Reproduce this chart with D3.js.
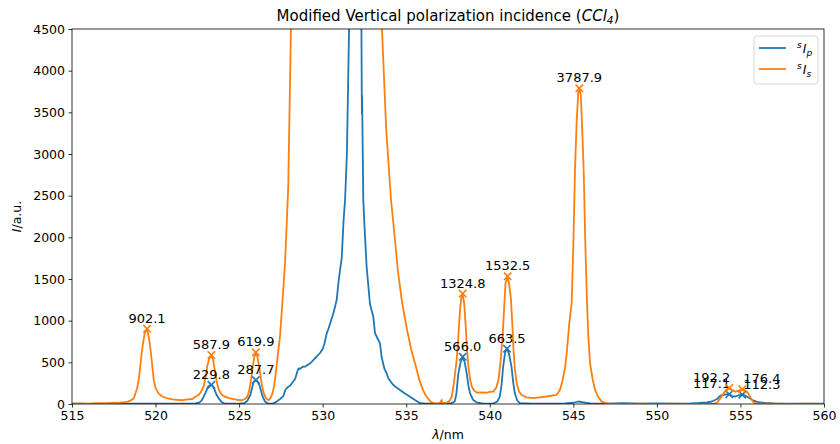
<!DOCTYPE html>
<html>
<head>
<meta charset="utf-8">
<script src="https://cdn.jsdelivr.net/npm/d3@7"></script>
<style>
  body { margin: 0; background: #fff; }
  text { font-family: "DejaVu Sans", sans-serif; }
</style>
</head>
<body>
<div id="chart"></div>
<script>
// spectra (wavelength in nm, intensity in a.u.)
const lamS = [515.0, 515.5, 516.0, 516.5, 517.0, 517.5, 517.8, 518.0, 518.3, 518.5, 518.7, 518.9, 519.0, 519.1, 519.22, 519.35, 519.49, 519.6, 519.73, 519.89, 520.0, 520.19, 520.4, 520.6, 520.8, 521.0, 521.3, 521.6, 521.9, 522.2, 522.4, 522.58, 522.7, 522.88, 523.0, 523.1, 523.2, 523.34, 523.45, 523.54, 523.65, 523.78, 523.95, 524.17, 524.4, 524.77, 525.0, 525.17, 525.35, 525.5, 525.6, 525.7, 525.8, 525.9, 526.0, 526.1, 526.23, 526.35, 526.47, 526.6, 526.77, 526.9, 527.0, 527.1, 527.2, 527.3, 527.45, 527.6, 527.75, 527.94, 528.1, 528.3, 529.0, 530.0, 531.0, 532.0, 532.8, 533.2, 533.55, 533.8, 534.09, 534.27, 534.5, 534.73, 534.9, 535.05, 535.3, 535.63, 535.8, 536.0, 536.2, 536.5, 536.8, 537.0, 537.12, 537.2, 537.4, 537.6, 537.73, 537.85, 538.02, 538.12, 538.22, 538.3, 538.38, 538.47, 538.56, 538.64, 538.72, 538.82, 538.92, 539.05, 539.22, 539.5, 539.8, 540.0, 540.22, 540.4, 540.52, 540.65, 540.78, 540.94, 541.07, 541.17, 541.27, 541.35, 541.42, 541.5, 541.61, 541.75, 541.91, 542.2, 542.6, 543.0, 543.4, 543.7, 544.0, 544.2, 544.35, 544.5, 544.6, 544.75, 544.9, 545.0, 545.1, 545.2, 545.3, 545.36, 545.45, 545.55, 545.62, 545.72, 545.82, 545.9, 546.0, 546.15, 546.3, 546.5, 546.7, 547.0, 547.5, 548.0, 549.0, 550.0, 551.0, 552.0, 553.0, 553.4, 553.6, 553.8, 553.99, 554.15, 554.33, 554.5, 554.7, 554.9, 555.11, 555.3, 555.47, 555.65, 555.8, 556.0, 557.0, 558.0, 559.0, 560.0];
const valS = [5, 8, 3, 10, 6, 15, 12, 20, 25, 40, 70, 190, 300, 480, 690, 850, 902.1, 800, 600, 290, 190, 125, 90, 75, 65, 55, 50, 45, 55, 60, 90, 110, 140, 210, 330, 460, 540, 587.9, 520, 410, 280, 170, 115, 85, 70, 55, 45, 45, 60, 90, 160, 270, 420, 560, 619.9, 560, 410, 240, 130, 70, 45, 80, 130, 220, 380, 560, 820, 1250, 1700, 2600, 4500, 6000, 10000, 18000, 28000, 30000, 12000, 7000, 4500, 3300, 2450, 2090, 1600, 1250, 1050, 890, 650, 410, 280, 170, 90, 20, 5, 10, 48, 5, 12, 40, 90, 250, 530, 820, 1130, 1280, 1324.8, 1200, 930, 650, 450, 300, 210, 165, 136, 140, 135, 145, 150, 200, 290, 520, 850, 1450, 1532.5, 1420, 1250, 950, 650, 430, 250, 150, 108, 80, 70, 80, 90, 100, 110, 170, 280, 430, 600, 950, 1210, 1900, 2810, 3400, 3750, 3787.9, 3700, 3200, 2800, 1900, 1210, 800, 490, 300, 170, 80, 28, 8, 3, 2, 4, 2, 3, 2, 2, 5, 15, 70, 128, 170, 192.2, 170, 148, 160, 176.4, 160, 128, 60, 15, 5, 3, 2, 3, 2];

const lamP = [515.0, 516.0, 517.0, 518.0, 519.0, 520.0, 521.0, 522.0, 522.4, 522.6, 522.75, 522.88, 523.0, 523.14, 523.25, 523.34, 523.44, 523.54, 523.65, 523.78, 523.95, 524.1, 524.5, 525.0, 525.3, 525.5, 525.67, 525.77, 525.87, 526.0, 526.1, 526.21, 526.31, 526.41, 526.55, 526.7, 527.0, 527.25, 527.45, 527.65, 527.76, 527.9, 528.05, 528.2, 528.35, 528.5, 528.56, 528.64, 528.75, 528.84, 528.96, 529.1, 529.2, 529.36, 529.5, 529.65, 529.84, 530.0, 530.1, 530.24, 530.34, 530.5, 530.64, 530.74, 530.84, 530.94, 531.05, 531.14, 531.25, 531.34, 531.45, 531.58, 531.7, 531.9, 532.1, 532.25, 532.32, 532.34, 532.35, 532.36, 532.4, 532.43, 532.5, 532.63, 532.83, 533.03, 533.13, 533.3, 533.43, 533.53, 533.7, 533.83, 533.93, 534.1, 534.23, 534.4, 534.63, 534.9, 535.23, 535.5, 535.83, 536.2, 536.8, 537.3, 537.7, 537.9, 538.0, 538.12, 538.25, 538.38, 538.5, 538.62, 538.72, 538.82, 539.0, 539.2, 539.6, 540.2, 540.45, 540.6, 540.7, 540.8, 540.92, 541.03, 541.15, 541.3, 541.4, 541.5, 541.65, 541.8, 542.5, 543.5, 544.5, 545.0, 545.3, 545.6, 546.0, 547.0, 548.0, 549.0, 550.0, 551.0, 552.0, 552.5, 553.0, 553.3, 553.6, 553.8, 554.0, 554.15, 554.33, 554.5, 554.7, 554.9, 555.11, 555.3, 555.55, 555.8, 556.0, 556.5, 557.0, 558.0, 559.0, 560.0];
const valP = [3, 2, 4, 3, 5, 4, 3, 5, 8, 15, 40, 88, 140, 208, 225, 229.8, 210, 168, 110, 68, 25, 8, 3, 4, 10, 40, 108, 190, 268, 287.7, 270, 228, 160, 88, 30, 8, 3, 28, 60, 95, 168, 200, 220, 260, 300, 400, 428, 420, 440, 448, 450, 470, 480, 508, 540, 570, 612, 660, 720, 848, 900, 1000, 1090, 1168, 1250, 1450, 1620, 1750, 2200, 2448, 3000, 4500, 7000, 12000, 10000, 6000, 4500, 3720, 3480, 3700, 3000, 2448, 2150, 1648, 1200, 1048, 850, 780, 728, 560, 420, 368, 308, 260, 228, 200, 168, 130, 88, 50, 10, 5, 3, 6, 10, 30, 120, 368, 500, 566.0, 500, 368, 220, 128, 50, 20, 5, 5, 30, 88, 220, 448, 620, 663.5, 600, 448, 260, 128, 40, 10, 3, 5, 8, 15, 30, 20, 8, 4, 10, 3, 6, 5, 8, 12, 20, 30, 60, 100, 110, 115, 117.1, 95, 90, 105, 112.3, 100, 70, 40, 25, 12, 6, 4, 5, 3];

// marked peaks
const peakLamS = [519.49, 523.34, 526.0, 538.38, 541.07, 545.36, 554.33, 555.11];
const peakValS = [902.1, 587.9, 619.9, 1324.8, 1532.5, 3787.9, 192.2, 176.4];
const peakLamP = [523.34, 526.0, 538.38, 541.03, 554.33, 555.11];
const peakValP = [229.8, 287.7, 566.0, 663.5, 117.1, 112.3];

const xTicks = [515, 520, 525, 530, 535, 540, 545, 550, 555, 560];
const yTicks = [0, 500, 1000, 1500, 2000, 2500, 3000, 3500, 4000, 4500];

const blue = "#1f77b4", orange = "#ff7f0e";

const W = 840, H = 444;
const margin = {top: 29, right: 16, bottom: 40, left: 72};
const width = W - margin.left - margin.right,
      height = H - margin.top - margin.bottom;

const svg = d3.select("#chart").append("svg")
  .attr("width", W).attr("height", H);

svg.append("defs").append("clipPath").attr("id", "clip")
  .append("rect").attr("width", width).attr("height", height);

const g = svg.append("g")
  .attr("transform", "translate(" + margin.left + "," + margin.top + ")");

let x = d3.scaleLinear().domain([515, 560]).range([0, width]);
let y = d3.scaleLinear().domain([0, 4500]).range([height, 0]);

const lineGen = d3.line().x(d => x(d[0])).y(d => y(d[1]));

const plot = g.append("g").attr("clip-path", "url(#clip)");

plot.append("path")
  .datum(d3.zip(lamP, valP))
  .attr("d", lineGen)
  .attr("fill", "none").attr("stroke", blue).attr("stroke-width", 1.8)
  .attr("stroke-linejoin", "round");

plot.append("path")
  .datum(d3.zip(lamS, valS))
  .attr("d", lineGen)
  .attr("fill", "none").attr("stroke", orange).attr("stroke-width", 1.8)
  .attr("stroke-linejoin", "round");

// the two small 555 nm pairs were nudged apart in the original
function anchorFor(lam) {
  if (lam > 554 && lam < 554.6) return "end";
  if (lam > 555) return "start";
  return "middle";
}

// x markers + value labels
function markPeaks(lams, vals, col) {
  const pk = g.append("g");
  pk.selectAll("path")
    .data(d3.zip(lams, vals))
    .enter().append("path")
    .attr("transform", d => "translate(" + x(d[0]) + "," + y(d[1]) + ")")
    .attr("d", "M-3.7,-3.7L3.7,3.7M-3.7,3.7L3.7,-3.7")
    .attr("stroke", col).attr("stroke-width", 1.6).attr("fill", "none");
  pk.selectAll("text")
    .data(d3.zip(lams, vals))
    .enter().append("text")
    .attr("x", d => x(d[0]) + (anchorFor(d[0]) === "end" ? 1 : anchorFor(d[0]) === "start" ? 1 : 0))
    .attr("y", d => y(d[1]) - 6)
    .attr("text-anchor", d => anchorFor(d[0]))
    .attr("font-size", 13)
    .attr("fill", "#000")
    .text(d => d[1].toFixed(1));
}
markPeaks(peakLamP, peakValP, blue);
markPeaks(peakLamS, peakValS, orange);

// axes
const xAxis = g.append("g")
  .attr("transform", "translate(0," + height + ")")
  .call(d3.axisBottom(x).tickValues(xTicks).tickFormat(d3.format("d")).tickSize(3.5).tickPadding(3.5));
const yAxis = g.append("g")
  .call(d3.axisLeft(y).tickValues(yTicks).tickFormat(d3.format("d")).tickSize(3.5).tickPadding(3.5));
[xAxis, yAxis].forEach(a => {
  a.selectAll("text").attr("font-size", 12.5).attr("fill", "#000")
    .style("font-family", "DejaVu Sans");
  a.selectAll("line").attr("stroke", "#000").attr("stroke-width", 0.8);
  a.select(".domain").remove();
});

// frame
g.append("rect").attr("width", width).attr("height", height)
  .attr("fill", "none").attr("stroke", "#000").attr("stroke-width", 0.8);

// title
const title = svg.append("text")
  .attr("x", margin.left + width / 2).attr("y", 21)
  .attr("text-anchor", "middle").attr("font-size", 15);
title.append("tspan").text("Modified Vertical polarization incidence (");
title.append("tspan").attr("font-style", "italic").text("CCl");
title.append("tspan").attr("font-style", "italic").attr("font-size", 10.5).attr("dy", 3).text("4");
title.append("tspan").attr("dy", -3).text(")");

// axis labels
const xl = svg.append("text")
  .attr("x", margin.left + width / 2).attr("y", 439)
  .attr("text-anchor", "middle").attr("font-size", 12.5);
xl.append("tspan").attr("font-style", "italic").text("λ");
xl.append("tspan").text("/nm");

const yl = svg.append("text")
  .attr("transform", "translate(21," + (margin.top + height / 2) + ") rotate(-90)")
  .attr("text-anchor", "middle").attr("font-size", 12.5);
yl.append("tspan").attr("font-style", "italic").text("I");
yl.append("tspan").text("/a.u.");

// legend
const lg = svg.append("g").attr("transform", "translate(754,36)");
lg.append("rect").attr("width", 64).attr("height", 48).attr("rx", 3)
  .attr("fill", "#fff").attr("fill-opacity", 0.8)
  .attr("stroke", "#ccc").attr("stroke-width", 0.8);
const legItems = [{col: blue, sub: "p"}, {col: orange, sub: "s"}];
legItems.forEach((it, i) => {
  const yy = 12 + i * 21;
  lg.append("line").attr("x1", 5).attr("x2", 32).attr("y1", yy).attr("y2", yy)
    .attr("stroke", it.col).attr("stroke-width", 1.8);
  const t = lg.append("text").attr("x", 43).attr("y", yy + 5).attr("font-size", 12.5);
  t.append("tspan").attr("font-size", 9).attr("font-style", "italic").attr("dy", -5).text("s");
  t.append("tspan").attr("font-style", "italic").attr("dy", 5).attr("dx", 1).text("I");
  t.append("tspan").attr("font-size", 9).attr("font-style", "italic").attr("dy", 3).text(it.sub);
});
</script>
</body>
</html>
